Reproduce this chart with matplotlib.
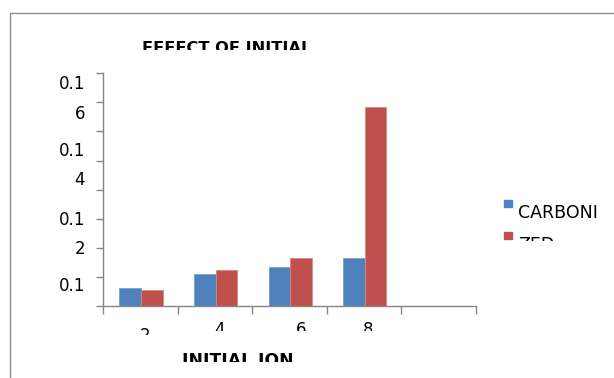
import matplotlib
matplotlib.use("Agg")
import matplotlib.pyplot as plt
import matplotlib.transforms as mtransforms
from matplotlib.patches import Rectangle
import numpy as np

# data
categories = ["2", "4", "6", "8", ""]
carboni = [0.0963, 0.1011, 0.1034, 0.1064, np.nan]
zed = [0.0956, 0.1023, 0.1064, 0.1585, np.nan]
series_names = ["CARBONI", "ZED"]

# y labels come out wrapped onto two lines, each piece sits at its own height
ylabel_text = ["0.1", "6", "0.1", "4", "0.1", "2", "0.1"]
ylabel_pos = [0.1670, 0.1567, 0.1440, 0.1340, 0.1203, 0.1103, 0.0976]
ygrid = [0.09, 0.10, 0.11, 0.12, 0.13, 0.14, 0.15, 0.16, 0.17]

BLUE = "#4F81BD"
RED = "#C0504D"
GREY = "#868686"

W, H = 614, 378
fig = plt.figure(figsize=(W / 100, H / 100), dpi=100)
plt.rcParams["font.family"] = "DejaVu Sans"


def px_box(x0, y0, x1, y1):
    # pixel box measured from the top-left corner -> display bbox
    return mtransforms.Bbox.from_extents(x0, H - y1, x1, H - y0)


def clipped(artist, bottom):
    artist.set_clip_box(px_box(0, 0, W, bottom))
    artist.set_clip_on(True)


# outer chart border, runs off the right and bottom edges
fig.patches.append(Rectangle((10 / W, -0.1), 1.2, 1.1 - 13 / H,
                             transform=fig.transFigure, fill=False,
                             edgecolor="#8c8c8c", lw=1.0))

ax = fig.add_axes([103 / W, 1 - 306 / H, (476 - 103) / W, (306 - 73.3) / H])
x = np.arange(len(categories))
bw = 0.29
ax.bar(x + 0.365, carboni, bw, color=BLUE, edgecolor="#7a9fd0", lw=0.6)
ax.bar(x + 0.655, zed, bw, color=RED, edgecolor="#d88784", lw=0.6)

ax.set_xlim(0, len(categories))
ax.set_ylim(ygrid[0], ygrid[-1])
for s in ["top", "right"]:
    ax.spines[s].set_visible(False)
for s in ["left", "bottom"]:
    ax.spines[s].set_color(GREY)
    ax.spines[s].set_linewidth(1.0)

# tick marks on the grid, labels placed separately
ax.set_yticks(ygrid, minor=True)
ax.set_yticks(ylabel_pos)
ax.set_yticklabels(ylabel_text, fontsize=12)
ax.tick_params(axis="y", which="major", length=0, pad=13)
ax.tick_params(axis="y", which="minor", length=5, width=1, color=GREY,
               direction="out")

ax.set_xticks(np.arange(len(categories) + 1), minor=True)
ax.set_xticks([])
ax.tick_params(axis="x", which="minor", length=6, width=1, color=GREY,
               direction="out")

# category labels under the axis, the row is cut off at the bottom
xtrans = mtransforms.blended_transform_factory(ax.transData, fig.transFigure)
for i, cat in enumerate(categories):
    if not cat:
        continue
    top = 328 if i == 0 else 322
    cut = 335 if i == 0 else 331
    lab = ax.text(i + 0.56 + (0.09 if i == 2 else 0), 1 - (top + 13) / H,
                  cat, transform=xtrans, ha="center", va="baseline",
                  fontsize=12)
    clipped(lab, cut)

# title and axis title, both cut off at the bottom
t = fig.text(227 / W, 1 - 53 / H, "EFFECT OF INITIAL", ha="center",
             va="baseline", fontsize=11.7, fontweight="bold")
clipped(t, 50)

xl = fig.text(238 / W, 1 - 365.5 / H, "INITIAL ION", ha="center",
              va="baseline", fontsize=12.3, fontweight="bold")
clipped(xl, 362)

# legend
for i, (name, col) in enumerate(zip(series_names, [BLUE, RED])):
    top = 200 + 32 * i
    fig.patches.append(Rectangle((504 / W, 1 - (top + 7) / H), 8 / W, 7 / H,
                                 transform=fig.transFigure, color=col))
    lt = fig.text(518 / W, 1 - (top + 18) / H, name, ha="left",
                  va="baseline", fontsize=12.5)
    clipped(lt, 241)

fig.savefig("out.png", dpi=100)
